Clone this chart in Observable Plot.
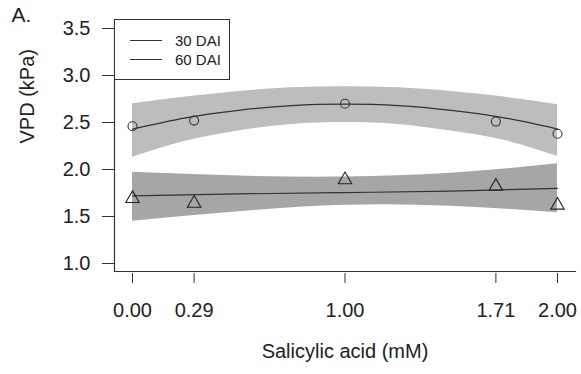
<!DOCTYPE html>
<html>
<head>
<meta charset="utf-8">
<script src="https://cdn.jsdelivr.net/npm/d3@7"></script>
<script src="https://cdn.jsdelivr.net/npm/@observablehq/plot@0.6"></script>
<style>
  html, body { margin: 0; padding: 0; background: #fff; }
  #wrap { position: relative; width: 581px; height: 374px; font-family: "Liberation Sans", Arial, sans-serif; }
  #legend { position: absolute; left: 114px; top: 19px; width: 114px; height: 59px; border: 1.2px solid #333; background: #fff; }
  .lg-row { position: absolute; left: 0; display: flex; align-items: center; font-size: 15px; color: #222; }
  .lg-line { display: inline-block; width: 32px; height: 0; border-top: 1.2px solid #333; margin-left: 15px; margin-right: 13px; }
</style>
</head>
<body>
<div id="wrap">
  <div id="chart"></div>
</div>
<script>
// Observed points
const doses = [0, 0.29, 1.00, 1.71, 2.00];
const xTickLabels = ["0.00", "0.29", "1.00", "1.71", "2.00"];
const yTicks = [1.0, 1.5, 2.0, 2.5, 3.0, 3.5];
const vpd30 = [2.46, 2.52, 2.70, 2.51, 2.38];   // circles
const vpd60 = [1.69, 1.64, 1.89, 1.82, 1.62];   // triangles
const seriesNames = ["30 DAI", "60 DAI"];

// Fitted curves and confidence bands
const fitX30 = [0, 0.25, 0.5, 0.75, 1, 1.25, 1.5, 1.75, 2];
const fit30 = [2.43, 2.55, 2.63, 2.68, 2.695, 2.68, 2.63, 2.55, 2.43];
const hi30 = [2.70, 2.77, 2.83, 2.87, 2.88, 2.87, 2.83, 2.77, 2.69];
const lo30 = [2.13, 2.30, 2.41, 2.48, 2.50, 2.48, 2.41, 2.31, 2.14];

const fitX60 = [0, 0.5, 1, 1.5, 2];
const fit60 = [1.72, 1.74, 1.755, 1.77, 1.80];
const hi60 = [1.97, 1.93, 1.92, 1.96, 2.06];
const lo60 = [1.45, 1.55, 1.62, 1.61, 1.54];

const pts30 = doses.map((d, i) => ({x: d, y: vpd30[i]}));
const pts60 = doses.map((d, i) => ({x: d, y: vpd60[i]}));
const band30 = fitX30.map((d, i) => ({x: d, fit: fit30[i], hi: hi30[i], lo: lo30[i]}));
const band60 = fitX60.map((d, i) => ({x: d, fit: fit60[i], hi: hi60[i], lo: lo60[i]}));

const font = "Liberation Sans, Arial, sans-serif";

const plot = Plot.plot({
  width: 581,
  height: 374,
  marginLeft: 114,
  marginRight: 6,
  marginTop: 19,
  marginBottom: 103,
  insetLeft: 18,
  insetRight: 18,
  insetTop: 9,
  insetBottom: 8,
  style: {fontFamily: font, background: "#fff", color: "#222"},
  x: {domain: [0, 2]},
  y: {domain: [1.0, 3.5]},
  marks: [
    Plot.areaY(band30, {x: "x", y1: "lo", y2: "hi", fill: "#bdbdbd", curve: "natural"}),
    Plot.areaY(band60, {x: "x", y1: "lo", y2: "hi", fill: "#a6a6a6", curve: "natural"}),
    Plot.lineY(band30, {x: "x", y: "fit", stroke: "#333", strokeWidth: 1.2, curve: "natural"}),
    Plot.lineY(band60, {x: "x", y: "fit", stroke: "#333", strokeWidth: 1.2, curve: "natural"}),
    Plot.dot(pts30, {x: "x", y: "y", r: 4.5, stroke: "#333", strokeWidth: 1.1, fill: "none"}),
    Plot.dot(pts60, {x: "x", y: "y", r: 5, symbol: "triangle", stroke: "#222", strokeWidth: 1.1, fill: "none"}),
    Plot.frame({anchor: "left", stroke: "#333", strokeWidth: 1.2}),
    Plot.frame({anchor: "bottom", stroke: "#333", strokeWidth: 1.2}),
    Plot.axisY({ticks: yTicks, tickFormat: d3.format(".1f"), tickSize: 12, tickPadding: 12, fontSize: 20, label: null, stroke: "#333"}),
    Plot.axisX({ticks: doses, tickFormat: (d) => xTickLabels[doses.indexOf(d)], tickSize: 10, tickPadding: 19, fontSize: 20, label: null, dy: 2, stroke: "#333"}),
    Plot.text(["Salicylic acid (mM)"], {frameAnchor: "bottom", dy: 86, fontSize: 20, fill: "#222"}),
    Plot.text(["VPD (kPa)"], {frameAnchor: "left", rotate: -90, dx: -87, dy: -2, fontSize: 20, fill: "#222"}),
    Plot.text(["A."], {frameAnchor: "top-left", dx: -103, dy: 2, fontSize: 21, fill: "#222", textAnchor: "start", lineAnchor: "bottom"})
  ]
});
document.getElementById("chart").appendChild(plot);

// Legend overlay inside the plot frame
const legend = document.createElement("div");
legend.id = "legend";
seriesNames.forEach((name, i) => {
  const row = document.createElement("div");
  row.className = "lg-row";
  row.style.top = (i === 0 ? 12 : 31) + "px";
  row.innerHTML = `<span class="lg-line"></span><span>${name}</span>`;
  legend.appendChild(row);
});
document.getElementById("wrap").appendChild(legend);
</script>
</body>
</html>
